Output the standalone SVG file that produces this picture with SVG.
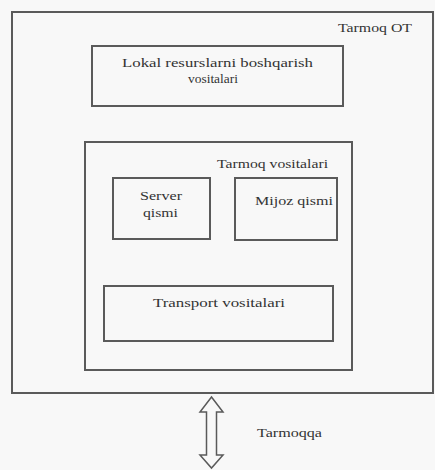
<svg xmlns="http://www.w3.org/2000/svg" width="435" height="470" viewBox="0 0 435 470">
<style>
.box{fill:none;stroke:#5a5a5a;stroke-width:2}
.t{font-family:'Liberation Serif','DejaVu Serif','Times New Roman',serif;font-size:13px;fill:#333}
</style>
<rect x="0" y="0" width="435" height="470" fill="#f8f8f8"/>
<g id="tarmoq-ot">
<rect class="box" x="12" y="12" width="421" height="381"/>
<text class="t" font-family="Liberation Serif, DejaVu Serif, serif" x="338" y="32" textLength="74" lengthAdjust="spacingAndGlyphs">Tarmoq OT</text>
</g>
<g id="lokal">
<rect class="box" x="92" y="46" width="251" height="60"/>
<text class="t" font-family="Liberation Serif, DejaVu Serif, serif" x="122" y="67" textLength="191" lengthAdjust="spacingAndGlyphs">Lokal resurslarni boshqarish</text>
<text class="t" font-family="Liberation Serif, DejaVu Serif, serif" x="188" y="83" textLength="50" lengthAdjust="spacingAndGlyphs">vositalari</text>
</g>
<g id="tarmoq-vositalari">
<rect class="box" x="85" y="142" width="267" height="228"/>
<text class="t" font-family="Liberation Serif, DejaVu Serif, serif" x="217" y="168" textLength="111" lengthAdjust="spacingAndGlyphs">Tarmoq vositalari</text>
</g>
<g id="server">
<rect class="box" x="113" y="178" width="97" height="61"/>
<text class="t" font-family="Liberation Serif, DejaVu Serif, serif" x="140" y="200" textLength="42" lengthAdjust="spacingAndGlyphs">Server</text>
<text class="t" font-family="Liberation Serif, DejaVu Serif, serif" x="143" y="217" textLength="35" lengthAdjust="spacingAndGlyphs">qismi</text>
</g>
<g id="mijoz">
<rect class="box" x="235" y="178" width="102" height="62"/>
<text class="t" font-family="Liberation Serif, DejaVu Serif, serif" x="255" y="205" textLength="78" lengthAdjust="spacingAndGlyphs">Mijoz qismi</text>
</g>
<g id="transport">
<rect class="box" x="104" y="286" width="229" height="55"/>
<text class="t" font-family="Liberation Serif, DejaVu Serif, serif" x="153" y="307" textLength="132" lengthAdjust="spacingAndGlyphs">Transport vositalari</text>
</g>
<g id="connectors">
<path d="M211.5 397 L223 412 L216.5 412 L216.5 455 L223 455 L211.5 468 L200 455 L206.5 455 L206.5 412 L200 412 Z" fill="none" stroke="#5a5a5a" stroke-width="1.5" stroke-linejoin="miter"/>
<text class="t" font-family="Liberation Serif, DejaVu Serif, serif" x="257" y="437" textLength="65" lengthAdjust="spacingAndGlyphs">Tarmoqqa</text>
</g>
</svg>
